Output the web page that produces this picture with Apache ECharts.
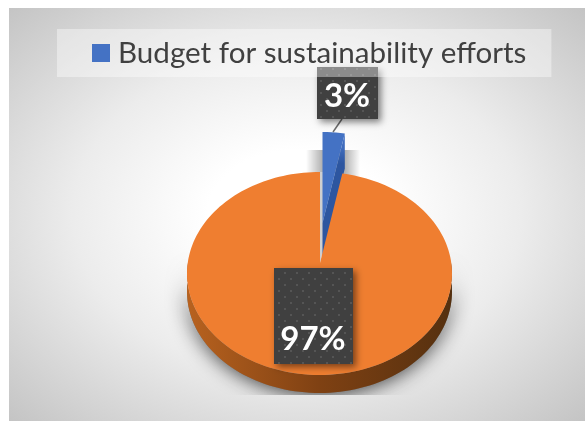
<!DOCTYPE html>
<html>
<head>
<meta charset="utf-8">
<title>Budget for sustainability efforts</title>
<style>
  html, body { margin: 0; padding: 0; background: #fff; overflow: hidden; }
  #frame {
    position: absolute; left: 9px; top: 8px; width: 576px; height: 413px;
    background: radial-gradient(ellipse farthest-corner at 50% 50%, #ffffff 22%, #ececec 55%, #c4c4c4 100%);
  }
  #chart { position: absolute; left: 0; top: 0; width: 585px; height: 421px; }
</style>
<script src="https://cdn.jsdelivr.net/npm/echarts@6/dist/echarts.min.js"></script>
</head>
<body>
<div id="frame"></div>
<div id="chart"></div>
<script>
  // 数据
  const categories = ['Budget for sustainability efforts', 'Rest of budget']
  const shares = [3, 97]
  const colors = ['#4472c4', '#ef7e30']

  const total = shares[0] + shares[1]

  // 椭圆饼（伪3D）
  const cx = 319.5
  const cy = 273.5
  const rx = 132.5
  const ry = 101.5
  const depth = 18
  const sliceDepth = 35
  const apexX = 320
  const apexY = 263
  const explodeX = 2.5
  const explodeY = -40

  // 标签背景的小圆点
  const dots = document.createElement('canvas')
  dots.width = 12
  dots.height = 12
  const dc = dots.getContext('2d')
  dc.fillStyle = '#404040'
  dc.fillRect(0, 0, 12, 12)
  dc.fillStyle = '#555555'
  dc.fillRect(2, 2, 2, 2)
  dc.fillRect(8, 8, 2, 2)
  const dotFill = { image: dots, repeat: 'repeat' }

  // 从顶点出发的射线与椭圆边缘的交点
  function rimPoint(frac) {
    const a = frac * Math.PI * 2
    const dx = Math.sin(a)
    const dy = -Math.cos(a)
    const ox = (apexX - cx) / rx
    const oy = (apexY - cy) / ry
    const b = ox * dx + oy * dy
    const t = -b + Math.sqrt(b * b - (ox * ox + oy * oy - 1))
    return [cx + (ox + t * dx) * rx, cy + (oy + t * dy) * ry]
  }

  function wedge(from, to, shiftX, shiftY) {
    const pts = [[apexX + shiftX, apexY + shiftY]]
    const steps = Math.max(4, Math.round((to - from) * 180))
    for (let i = 0; i <= steps; i++) {
      const p = rimPoint(from + ((to - from) * i) / steps)
      pts.push([p[0] + shiftX, p[1] + shiftY])
    }
    return pts
  }

  function dataLabel(text, box, tx, ty) {
    return [
      {
        type: 'rect',
        shape: box,
        style: { fill: dotFill, shadowBlur: 7, shadowOffsetX: 3, shadowOffsetY: 3, shadowColor: 'rgba(0,0,0,0.5)' },
      },
      {
        type: 'text',
        style: {
          text: text,
          x: tx,
          y: ty,
          fill: '#fff',
          font: 'bold 33px Lato',
          textAlign: 'center',
          textVerticalAlign: 'middle',
        },
      },
    ]
  }

  const sliceFrac = shares[0] / total

  function renderBudget(params, api) {
    const value = api.value(0)
    const frac = value / total
    const pts = wedge(0, frac, explodeX, explodeY)
    const rimEnd = pts[pts.length - 1]
    return {
      type: 'group',
      children: [
        // 切片投影，顶部被截断
        {
          type: 'rect',
          shape: { x: 306, y: 150, width: 54, height: 26 },
          style: {
            fill: new echarts.graphic.LinearGradient(0, 0, 1, 0, [
              { offset: 0, color: 'rgba(0,0,0,0)' },
              { offset: 0.3, color: 'rgba(0,0,0,0.3)' },
              { offset: 0.72, color: 'rgba(0,0,0,0.3)' },
              { offset: 1, color: 'rgba(0,0,0,0)' },
            ]),
          },
        },
        // 橙色扇区缺口
        { type: 'polygon', shape: { points: wedge(0, frac, 0, 0) }, style: { fill: '#cfcfcf' } },
        // 切片侧面
        {
          type: 'polygon',
          shape: {
            points: [rimEnd, [rimEnd[0], rimEnd[1] + sliceDepth], [pts[0][0], pts[0][1] + sliceDepth], pts[0]],
          },
          style: {
            fill: new echarts.graphic.LinearGradient(0, 0, 0, 1, [
              { offset: 0, color: '#4472c4' },
              { offset: 0.12, color: '#3f6bbb' },
              { offset: 0.24, color: '#2d56a0' },
              { offset: 1, color: '#2d56a0' },
            ]),
          },
        },
        { type: 'polygon', shape: { points: pts }, style: { fill: colors[0] } },
        {
          type: 'line',
          shape: { x1: 333, y1: 132, x2: 342, y2: 119 },
          style: { stroke: '#6b6b6b', lineWidth: 1.5 },
        },
      ].concat(dataLabel(Math.round(frac * 100) + '%', { x: 317, y: 67, width: 61, height: 52 }, 347, 96)),
    }
  }

  function renderRest(params, api) {
    const value = api.value(0)
    const pts = wedge(sliceFrac, sliceFrac + value / total, 0, 0)
    const lower = []
    for (let i = 0; i <= 90; i++) {
      const p = rimPoint(0.25 + (i / 90) * 0.5)
      lower.push([p[0], p[1] + depth])
    }
    for (let i = 90; i >= 0; i--) {
      lower.push(rimPoint(0.25 + (i / 90) * 0.5))
    }
    return {
      type: 'group',
      children: [
        // 底部投影，下方被截断
        {
          type: 'polygon',
          shape: { points: lower },
          style: { fill: '#777', shadowBlur: 20, shadowColor: 'rgba(0,0,0,0.9)' },
          clipPath: { type: 'rect', shape: { x: 150, y: 200, width: 340, height: 195 } },
        },
        {
          type: 'polygon',
          shape: { points: lower },
          style: {
            fill: new echarts.graphic.LinearGradient(0, 0, 1, 0, [
              { offset: 0, color: '#b8621f' },
              { offset: 0.5, color: '#7f4113' },
              { offset: 1, color: '#55300f' },
            ]),
          },
        },
        { type: 'polygon', shape: { points: pts }, style: { fill: colors[1] } },
      ].concat(dataLabel(Math.round((value / total) * 100) + '%', { x: 274, y: 268, width: 79, height: 96 }, 313, 339)),
    }
  }

  const myChart = echarts.init(document.getElementById('chart'))
  myChart.setOption({
    animation: false,
    legend: {
      data: [{ name: categories[0], icon: 'rect' }],
      left: 57,
      top: 29,
      padding: [9, 25, 9, 35],
      backgroundColor: 'rgba(255,255,255,0.4)',
      itemWidth: 18,
      itemHeight: 18,
      textStyle: {
        color: '#404040',
        fontSize: 29.6,
        fontFamily: 'Lato',
        lineHeight: 30,
        padding: [0, 0, 0, 3],
      },
    },
    xAxis: { show: false },
    yAxis: { show: false },
    series: [
      {
        type: 'custom',
        name: categories[0],
        coordinateSystem: 'none',
        itemStyle: { color: colors[0] },
        renderItem: renderBudget,
        data: [[shares[0]]],
      },
      {
        type: 'custom',
        name: categories[1],
        coordinateSystem: 'none',
        itemStyle: { color: colors[1] },
        renderItem: renderRest,
        data: [[shares[1]]],
      },
    ],
  })
</script>
</body>
</html>
